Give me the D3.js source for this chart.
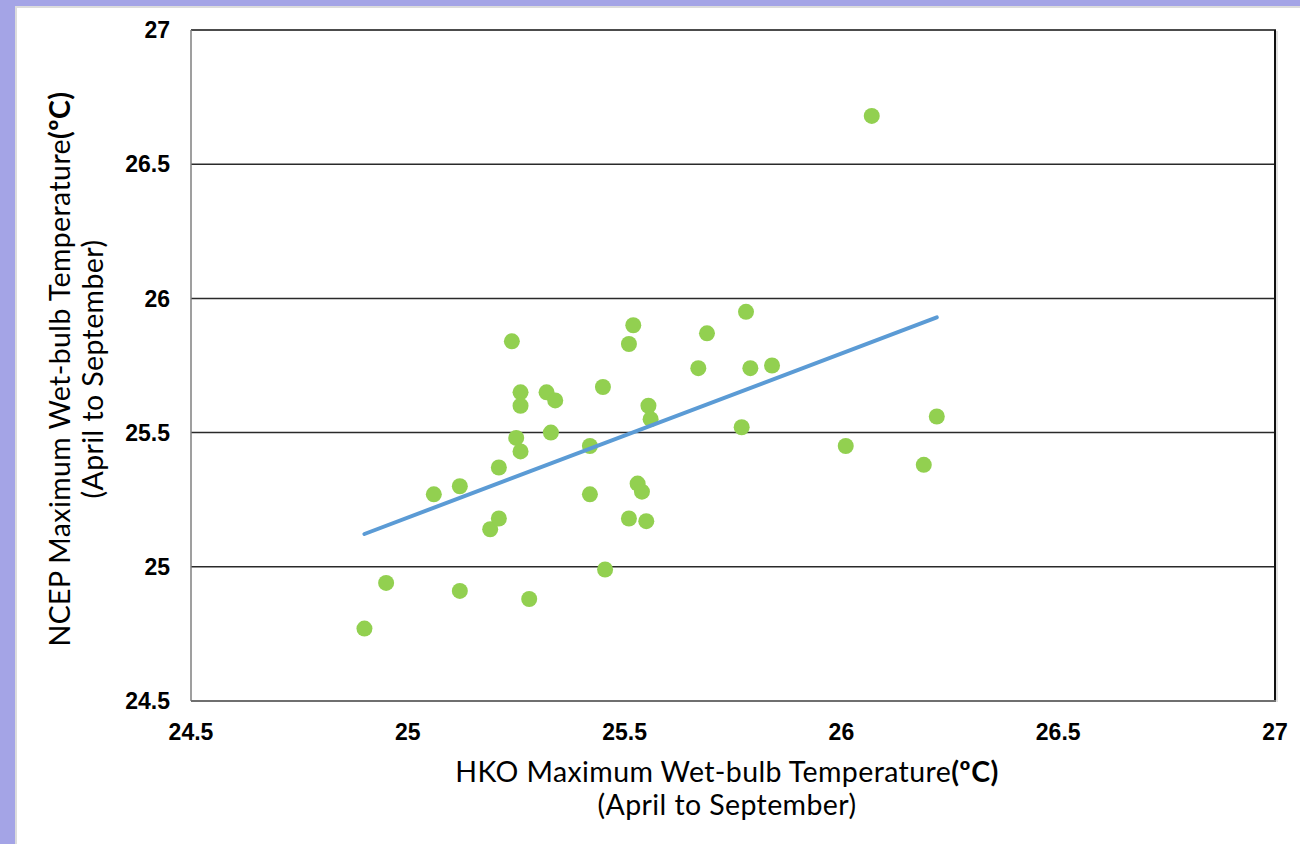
<!DOCTYPE html>
<html>
<head>
<meta charset="utf-8">
<script src="https://cdn.jsdelivr.net/npm/d3@7"></script>
<style>
  html, body { margin: 0; padding: 0; background: #ffffff; }
  svg { display: block; }
</style>
</head>
<body>
<svg id="chart" width="1300" height="844"></svg>
<script>
// Yearly April–September maximum wet-bulb temperatures (°C)
const hkoTemp = [
  24.90, 24.95, 25.06, 25.12, 25.12, 25.19, 25.21, 25.21, 25.24, 25.25,
  25.26, 25.26, 25.26, 25.28, 25.32, 25.34, 25.33, 25.42, 25.42, 25.45,
  25.455, 25.51, 25.52, 25.51, 25.53, 25.54, 25.55, 25.555, 25.56, 25.67,
  25.69, 25.77, 25.78, 25.79, 25.84, 26.01, 26.07, 26.19, 26.22
];
const ncepTemp = [
  24.77, 24.94, 25.27, 25.30, 24.91, 25.14, 25.18, 25.37, 25.84, 25.48,
  25.43, 25.65, 25.60, 24.88, 25.65, 25.62, 25.50, 25.27, 25.45, 25.67,
  24.99, 25.83, 25.90, 25.18, 25.31, 25.28, 25.17, 25.60, 25.55, 25.74,
  25.87, 25.52, 25.95, 25.74, 25.75, 25.45, 26.68, 25.38, 25.56
];
const xTicks = [24.5, 25, 25.5, 26, 26.5, 27];
const yTicks = [24.5, 25, 25.5, 26, 26.5, 27];
const xTitle = ["HKO Maximum Wet-bulb Temperature", "(April to September)"];
const yTitle = ["NCEP Maximum Wet-bulb Temperature", "(April to September)"];
const unitLabel = "(ºC)";

const svg = d3.select("#chart");
const W = 1300, H = 844;

// Page frame
svg.append("rect").attr("width", W).attr("height", H).attr("fill", "#a4a4e6");
svg.append("rect").attr("x", 15).attr("y", 6).attr("width", W - 15).attr("height", H - 6).attr("fill", "#dcdcdc");
svg.append("rect").attr("x", 17).attr("y", 8).attr("width", W - 17).attr("height", H - 8).attr("fill", "#ffffff");

const plot = { left: 191, right: 1275, top: 30, bottom: 701 };

const x = d3.scaleLinear().domain([24.5, 27]).range([plot.left, plot.right]);
const y = d3.scaleLinear().domain([24.5, 27]).range([plot.bottom, plot.top]);
const fmt = d3.format("~g");

// Horizontal gridlines
svg.append("g")
  .selectAll("line")
  .data(yTicks.filter(v => v > 24.5 && v < 27))
  .join("line")
  .attr("x1", plot.left).attr("x2", plot.right)
  .attr("y1", d => y(d)).attr("y2", d => y(d))
  .attr("stroke", "#2a2a2a").attr("stroke-width", 1.5);

// Plot frame: top and right border, gray axis lines left and bottom
svg.append("line").attr("x1", plot.left).attr("x2", plot.right + 1)
  .attr("y1", plot.top).attr("y2", plot.top).attr("stroke", "#111").attr("stroke-width", 1.5);
svg.append("line").attr("x1", plot.right + 2).attr("x2", plot.right + 2)
  .attr("y1", plot.top + 1).attr("y2", plot.bottom + 1).attr("stroke", "#e2e2e2").attr("stroke-width", 2);
svg.append("line").attr("x1", plot.right).attr("x2", plot.right)
  .attr("y1", plot.top).attr("y2", plot.bottom).attr("stroke", "#111").attr("stroke-width", 2);
svg.append("line").attr("x1", plot.left).attr("x2", plot.left)
  .attr("y1", plot.top).attr("y2", plot.bottom).attr("stroke", "#7f7f7f").attr("stroke-width", 1.5);
svg.append("line").attr("x1", plot.left).attr("x2", plot.right + 1)
  .attr("y1", plot.bottom).attr("y2", plot.bottom).attr("stroke", "#6f6f6f").attr("stroke-width", 2);

// Axis tick labels
const tickFont = "'Liberation Sans', Arial, sans-serif";
svg.append("g")
  .selectAll("text")
  .data(xTicks)
  .join("text")
  .attr("x", d => x(d)).attr("y", 740)
  .attr("text-anchor", "middle")
  .attr("font-family", tickFont).attr("font-weight", "bold").attr("font-size", 23)
  .attr("fill", "#000")
  .text(fmt);

svg.append("g")
  .selectAll("text")
  .data(yTicks)
  .join("text")
  .attr("x", 170).attr("y", d => y(d)).attr("dy", "0.36em")
  .attr("text-anchor", "end")
  .attr("font-family", tickFont).attr("font-weight", "bold").attr("font-size", 23)
  .attr("fill", "#000")
  .text(fmt);

// Axis titles
const titleFont = "Lato, 'Open Sans', sans-serif";
const titleSize = 28.5;

function titleBlock(g, lines) {
  const t1 = g.append("text").attr("text-anchor", "middle").attr("y", 0)
    .attr("font-family", titleFont).attr("font-size", titleSize)
    .attr("letter-spacing", 0.4).attr("fill", "#000");
  t1.append("tspan").text(lines[0]);
  t1.append("tspan").attr("font-weight", "bold").text(unitLabel);
  g.append("text").attr("text-anchor", "middle").attr("y", 33)
    .attr("font-family", titleFont).attr("font-size", titleSize)
    .attr("letter-spacing", 0.4).attr("fill", "#000")
    .text(lines[1]);
}

titleBlock(svg.append("g").attr("transform", "translate(727,782)"), xTitle);
titleBlock(svg.append("g").attr("transform", "translate(70,369) rotate(-90)"), yTitle);

// Linear least-squares trendline across the HKO range
const mx = d3.mean(hkoTemp), my = d3.mean(ncepTemp);
const sxy = d3.sum(hkoTemp, (v, i) => (v - mx) * (ncepTemp[i] - my));
const sxx = d3.sum(hkoTemp, v => (v - mx) * (v - mx));
const slope = sxy / sxx;
const intercept = my - slope * mx;
const xr = d3.extent(hkoTemp);
const trend = xr.map(v => [v, intercept + slope * v]);

// Points
svg.append("g")
  .selectAll("circle")
  .data(hkoTemp.map((v, i) => [v, ncepTemp[i]]))
  .join("circle")
  .attr("cx", d => x(d[0])).attr("cy", d => y(d[1]))
  .attr("r", 8)
  .attr("fill", "#92d050");

svg.append("path")
  .datum(trend)
  .attr("d", d3.line().x(d => x(d[0])).y(d => y(d[1])))
  .attr("fill", "none")
  .attr("stroke", "#5b9bd5")
  .attr("stroke-width", 4)
  .attr("stroke-linecap", "round");
</script>
</body>
</html>
